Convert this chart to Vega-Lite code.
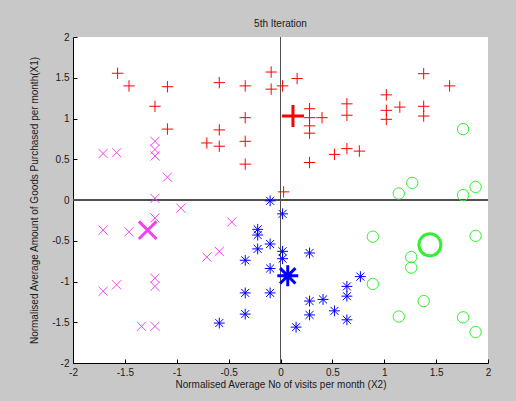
{
  "$schema": "https://vega.github.io/schema/vega-lite/v6.json",
  "autosize": "none",
  "width": 415,
  "height": 326,
  "padding": {"left": 73, "top": 37, "right": 28, "bottom": 38},
  "background": "#c8c8c8",
  "config": {
    "font": "Liberation Sans",
    "view": {"fill": "white", "stroke": null},
    "axis": {"grid": false, "domainColor": "#000000", "tickColor": "#000000", "labelColor": "#1a1a1a", "titleColor": "#1a1a1a", "labelFontSize": 10, "titleFontSize": 10, "titleFontWeight": "normal", "tickSize": -4, "labelFont": "Liberation Sans", "titleFont": "Liberation Sans"}
  },
  "title": {"text": "5th Iteration", "fontSize": 10, "fontWeight": "normal", "color": "#1a1a1a", "offset": 3, "font": "Liberation Sans"},
  "data": {"values": [
    {"x": -1.57, "y": 1.555, "c": "r", "k": "p"},
    {"x": -1.46, "y": 1.40, "c": "r", "k": "p"},
    {"x": -1.21, "y": 1.15, "c": "r", "k": "p"},
    {"x": -1.09, "y": 1.39, "c": "r", "k": "p"},
    {"x": -1.09, "y": 0.87, "c": "r", "k": "p"},
    {"x": -0.71, "y": 0.70, "c": "r", "k": "p"},
    {"x": -0.59, "y": 1.44, "c": "r", "k": "p"},
    {"x": -0.59, "y": 0.86, "c": "r", "k": "p"},
    {"x": -0.59, "y": 0.66, "c": "r", "k": "p"},
    {"x": -0.34, "y": 1.40, "c": "r", "k": "p"},
    {"x": -0.34, "y": 1.01, "c": "r", "k": "p"},
    {"x": -0.34, "y": 0.72, "c": "r", "k": "p"},
    {"x": -0.34, "y": 0.44, "c": "r", "k": "p"},
    {"x": -0.09, "y": 1.57, "c": "r", "k": "p"},
    {"x": -0.09, "y": 1.36, "c": "r", "k": "p"},
    {"x": 0.02, "y": 1.40, "c": "r", "k": "p"},
    {"x": 0.03, "y": 0.10, "c": "r", "k": "p"},
    {"x": 0.16, "y": 1.49, "c": "r", "k": "p"},
    {"x": 0.28, "y": 1.12, "c": "r", "k": "p"},
    {"x": 0.28, "y": 1.01, "c": "r", "k": "p"},
    {"x": 0.28, "y": 0.91, "c": "r", "k": "p"},
    {"x": 0.28, "y": 0.82, "c": "r", "k": "p"},
    {"x": 0.40, "y": 1.01, "c": "r", "k": "p"},
    {"x": 0.28, "y": 0.46, "c": "r", "k": "p"},
    {"x": 0.52, "y": 0.56, "c": "r", "k": "p"},
    {"x": 0.64, "y": 0.63, "c": "r", "k": "p"},
    {"x": 0.76, "y": 0.60, "c": "r", "k": "p"},
    {"x": 0.64, "y": 1.18, "c": "r", "k": "p"},
    {"x": 0.64, "y": 1.04, "c": "r", "k": "p"},
    {"x": 1.02, "y": 1.29, "c": "r", "k": "p"},
    {"x": 1.02, "y": 1.10, "c": "r", "k": "p"},
    {"x": 1.02, "y": 0.99, "c": "r", "k": "p"},
    {"x": 1.15, "y": 1.14, "c": "r", "k": "p"},
    {"x": 1.38, "y": 1.55, "c": "r", "k": "p"},
    {"x": 1.38, "y": 1.15, "c": "r", "k": "p"},
    {"x": 1.38, "y": 1.03, "c": "r", "k": "p"},
    {"x": 1.63, "y": 1.40, "c": "r", "k": "p"},
    {"x": 0.12, "y": 1.03, "c": "r", "k": "c"},
    {"x": -1.71, "y": 0.57, "c": "m", "k": "p"},
    {"x": -1.58, "y": 0.58, "c": "m", "k": "p"},
    {"x": -1.21, "y": 0.72, "c": "m", "k": "p"},
    {"x": -1.21, "y": 0.62, "c": "m", "k": "p"},
    {"x": -1.21, "y": 0.54, "c": "m", "k": "p"},
    {"x": -1.09, "y": 0.28, "c": "m", "k": "p"},
    {"x": -1.21, "y": 0.02, "c": "m", "k": "p"},
    {"x": -0.96, "y": -0.10, "c": "m", "k": "p"},
    {"x": -1.21, "y": -0.22, "c": "m", "k": "p"},
    {"x": -1.71, "y": -0.37, "c": "m", "k": "p"},
    {"x": -1.46, "y": -0.39, "c": "m", "k": "p"},
    {"x": -0.47, "y": -0.27, "c": "m", "k": "p"},
    {"x": -0.71, "y": -0.70, "c": "m", "k": "p"},
    {"x": -0.59, "y": -0.63, "c": "m", "k": "p"},
    {"x": -1.21, "y": -0.96, "c": "m", "k": "p"},
    {"x": -1.21, "y": -1.06, "c": "m", "k": "p"},
    {"x": -1.71, "y": -1.12, "c": "m", "k": "p"},
    {"x": -1.58, "y": -1.04, "c": "m", "k": "p"},
    {"x": -1.34, "y": -1.55, "c": "m", "k": "p"},
    {"x": -1.21, "y": -1.55, "c": "m", "k": "p"},
    {"x": -1.28, "y": -0.37, "c": "m", "k": "c"},
    {"x": -0.10, "y": -0.01, "c": "b", "k": "p"},
    {"x": 0.02, "y": -0.17, "c": "b", "k": "p"},
    {"x": -0.22, "y": -0.36, "c": "b", "k": "p"},
    {"x": -0.22, "y": -0.43, "c": "b", "k": "p"},
    {"x": -0.10, "y": -0.54, "c": "b", "k": "p"},
    {"x": -0.22, "y": -0.60, "c": "b", "k": "p"},
    {"x": 0.02, "y": -0.63, "c": "b", "k": "p"},
    {"x": 0.02, "y": -0.72, "c": "b", "k": "p"},
    {"x": -0.34, "y": -0.74, "c": "b", "k": "p"},
    {"x": -0.10, "y": -0.84, "c": "b", "k": "p"},
    {"x": -0.34, "y": -1.14, "c": "b", "k": "p"},
    {"x": -0.10, "y": -1.14, "c": "b", "k": "p"},
    {"x": -0.34, "y": -1.40, "c": "b", "k": "p"},
    {"x": -0.59, "y": -1.51, "c": "b", "k": "p"},
    {"x": 0.28, "y": -0.65, "c": "b", "k": "p"},
    {"x": 0.77, "y": -0.94, "c": "b", "k": "p"},
    {"x": 0.64, "y": -1.06, "c": "b", "k": "p"},
    {"x": 0.64, "y": -1.18, "c": "b", "k": "p"},
    {"x": 0.28, "y": -1.24, "c": "b", "k": "p"},
    {"x": 0.41, "y": -1.22, "c": "b", "k": "p"},
    {"x": 0.28, "y": -1.41, "c": "b", "k": "p"},
    {"x": 0.52, "y": -1.36, "c": "b", "k": "p"},
    {"x": 0.64, "y": -1.47, "c": "b", "k": "p"},
    {"x": 0.15, "y": -1.56, "c": "b", "k": "p"},
    {"x": 0.07, "y": -0.93, "c": "b", "k": "c"},
    {"x": 1.76, "y": 0.87, "c": "g", "k": "p"},
    {"x": 1.27, "y": 0.21, "c": "g", "k": "p"},
    {"x": 1.14, "y": 0.08, "c": "g", "k": "p"},
    {"x": 1.76, "y": 0.06, "c": "g", "k": "p"},
    {"x": 1.88, "y": 0.16, "c": "g", "k": "p"},
    {"x": 0.89, "y": -0.45, "c": "g", "k": "p"},
    {"x": 0.89, "y": -1.03, "c": "g", "k": "p"},
    {"x": 1.26, "y": -0.70, "c": "g", "k": "p"},
    {"x": 1.26, "y": -0.83, "c": "g", "k": "p"},
    {"x": 1.38, "y": -1.24, "c": "g", "k": "p"},
    {"x": 1.14, "y": -1.43, "c": "g", "k": "p"},
    {"x": 1.88, "y": -0.44, "c": "g", "k": "p"},
    {"x": 1.76, "y": -1.44, "c": "g", "k": "p"},
    {"x": 1.88, "y": -1.62, "c": "g", "k": "p"},
    {"x": 1.44, "y": -0.55, "c": "g", "k": "c"}
  ]},
  "encoding": {
    "x": {"field": "x", "type": "quantitative", "scale": {"domain": [-2, 2], "nice": false, "zero": false},
      "axis": {"values": [-2, -1.5, -1, -0.5, 0, 0.5, 1, 1.5, 2], "labelExpr": "'' + datum.value", "title": "Normalised Average No of visits per month (X2)", "labelPadding": 8, "titlePadding": 2, "labelFlush": false}},
    "y": {"field": "y", "type": "quantitative", "scale": {"domain": [-2, 2], "nice": false, "zero": false},
      "axis": {"values": [-2, -1.5, -1, -0.5, 0, 0.5, 1, 1.5, 2], "labelExpr": "'' + datum.value", "title": "Normalised Average Amount of Goods Purchased per month(X1)", "labelPadding": 8, "titlePadding": 12, "labelFlush": false}}
  },
  "layer": [
    {"mark": {"type": "rule", "color": "#505050", "strokeWidth": 1}, "encoding": {"x": {"datum": 0}, "y": null}},
    {"mark": {"type": "rule", "color": "#505050", "strokeWidth": 1}, "encoding": {"y": {"datum": 0}, "x": null}},
    {
      "mark": {"type": "point", "filled": false, "opacity": 1},
      "encoding": {
        "shape": {"field": "c", "type": "nominal", "legend": null, "scale": {"domain": ["r", "m", "b", "g"], "range": ["M-1,0L1,0M0,-1L0,1", "M-0.8,-0.8L0.8,0.8M-0.8,0.8L0.8,-0.8", "M-0.95,0L0.95,0M0,-0.95L0,0.95M-0.7,-0.7L0.7,0.7M-0.7,0.7L0.7,-0.7", "circle"]}},
        "color": {"field": "c", "type": "nominal", "legend": null, "scale": {"domain": ["r", "m", "b", "g"], "range": ["#ff0000", "#ee44ee", "#0000ff", "#33ee33"]}},
        "size": {"field": "k", "type": "nominal", "legend": null, "scale": {"domain": ["p", "c"], "range": [130, 484]}},
        "strokeWidth": {"field": "k", "type": "nominal", "legend": null, "scale": {"domain": ["p", "c"], "range": [1, 3]}}
      }
    }
  ]
}
